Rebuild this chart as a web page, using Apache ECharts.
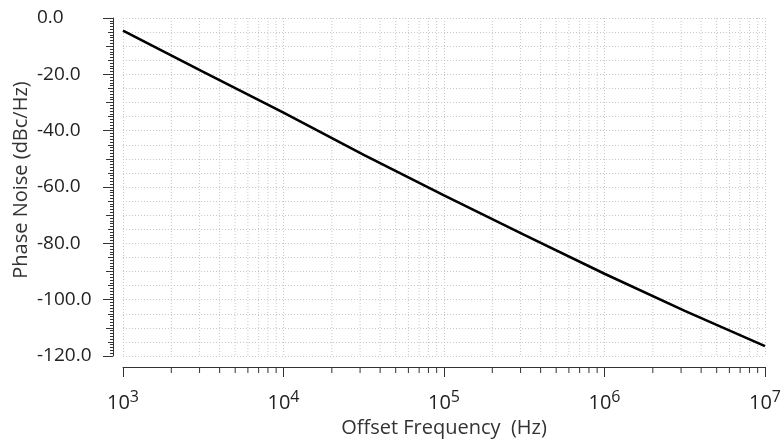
<!DOCTYPE html>
<html>
<head>
<meta charset="utf-8">
<script src="https://cdn.jsdelivr.net/npm/echarts@6/dist/echarts.min.js"></script>
<style>
html,body{margin:0;padding:0;background:#fff;}
#c{width:782px;height:442px;}
</style>
</head>
<body>
<div id="c"></div>
<script>
// Data
const freqs = [1e3, 3162, 1e4, 31623, 1e5, 316228, 1e6, 3162278, 1e7];
const phaseNoise = [-4.5, -19.1, -33.6, -48.6, -63.0, -77.0, -90.8, -104.0, -116.5];
const minorFreqs = [];
[1e3, 1e4, 1e5, 1e6].forEach(function (d) {
  [2, 3, 4, 5, 6, 7, 8, 9].forEach(function (m) { minorFreqs.push(d * m); });
});
const yMin = -120, yMax = 0;

const font = '"Open Sans", "Noto Sans", sans-serif';
const chart = echarts.init(document.getElementById('c'));
chart.setOption({
  animation: false,
  grid: { left: 123, right: 17, top: 18, bottom: 86, outerBoundsMode: 'none', containLabel: false },
  xAxis: {
    type: 'log', logBase: 10, min: 1e3, max: 1e7,
    offset: 11,
    name: 'Offset Frequency  (Hz)', nameLocation: 'middle', nameGap: 51, nameMoveOverlap: false,
    nameTextStyle: { fontFamily: font, fontSize: 20, color: '#333' },
    axisLine: { show: true, onZero: false, lineStyle: { color: '#333', width: 1 } },
    axisTick: { show: true, length: 10, lineStyle: { color: '#333' } },
    axisLabel: {
      margin: 22,
      formatter: function (v) { return '10{sup|' + Math.round(Math.log10(v)) + '}'; },
      fontFamily: font, fontSize: 20, color: '#222',
      rich: {
        sup: { fontFamily: font, fontSize: 16, color: '#222', verticalAlign: 'top', padding: [0, 0, 12, 0] }
      }
    },
    splitLine: { show: true, lineStyle: { color: '#c8c8c8', type: [1, 2], width: 1 } }
  },
  yAxis: [{
    type: 'value', min: yMin, max: yMax, interval: 20,
    offset: 10,
    name: 'Phase Noise (dBc/Hz)', nameLocation: 'middle', nameGap: 82, nameMoveOverlap: false,
    nameTextStyle: { fontFamily: font, fontSize: 20, color: '#333', padding: [0, 0, 0, 14] },
    axisLine: { show: true, onZero: false, lineStyle: { color: '#333', width: 1 } },
    axisTick: { show: true, length: 10, lineStyle: { color: '#333' } },
    minorTick: { show: true, splitNumber: 20, length: 3, lineStyle: { color: '#333' } },
    axisLabel: {
      margin: 76, align: 'left', fontFamily: font, fontSize: 19, color: '#222',
      formatter: function (v) { return v.toFixed(1); }
    },
    splitLine: { show: false }
  }, {
    type: 'value', min: yMin, max: yMax, interval: 10,
    offset: 10, position: 'left',
    axisLine: { show: false, onZero: false },
    axisTick: { show: true, length: 7, lineStyle: { color: '#333' } },
    axisLabel: { show: false },
    splitLine: { show: false }
  }, {
    type: 'value', min: yMin, max: yMax, interval: 5,
    offset: 10, position: 'left',
    axisLine: { show: false, onZero: false },
    axisTick: { show: true, length: 5, lineStyle: { color: '#333' } },
    axisLabel: { show: false },
    splitLine: { show: true, lineStyle: { color: '#c8c8c8', type: [1, 2], width: 1 } }
  }],
  series: [{
    type: 'custom',
    silent: true,
    z: 1,
    clip: false,
    data: minorFreqs.map(function (f) { return [f, yMin]; }),
    encode: { x: 0, y: 1 },
    renderItem: function (params, api) {
      const f = api.value(0);
      const top = api.coord([f, yMax]);
      const bot = api.coord([f, yMin]);
      return {
        type: 'group',
        children: [
          { type: 'line', shape: { x1: top[0], y1: top[1], x2: bot[0], y2: bot[1] },
            style: { stroke: '#c8c8c8', lineWidth: 1, lineDash: [1, 2] } },
          { type: 'line', shape: { x1: bot[0], y1: bot[1] + 11, x2: bot[0], y2: bot[1] + 17 },
            style: { stroke: '#333', lineWidth: 1 } }
        ]
      };
    }
  }, {
    type: 'line',
    z: 5,
    data: freqs.map(function (f, i) { return [f, phaseNoise[i]]; }),
    showSymbol: false,
    lineStyle: { color: '#000', width: 2.6 }
  }]
});
</script>
</body>
</html>
